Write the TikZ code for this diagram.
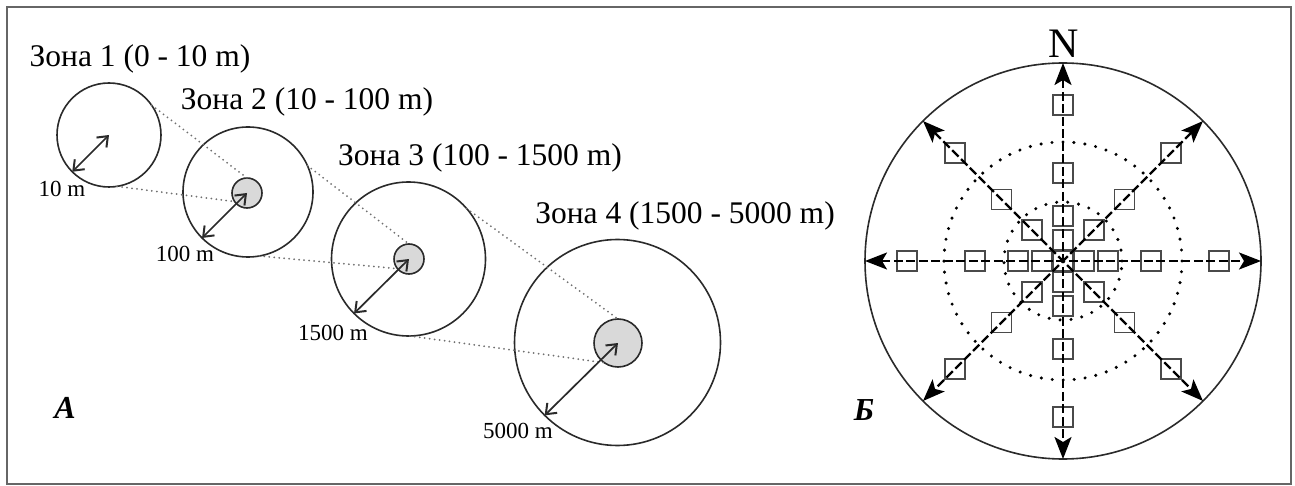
\documentclass[tikz,border=0pt]{standalone}
\usepackage{fontspec}
\setmainfont{Liberation Serif}
\usetikzlibrary{arrows.meta}
\definecolor{ink}{HTML}{2A2A2A}
\definecolor{coreg}{HTML}{D9D9D9}
\definecolor{framec}{HTML}{666666}
\definecolor{dotg}{HTML}{707070}
\definecolor{sqc}{HTML}{4A4A4A}
\begin{document}
\begin{tikzpicture}[x=1pt,y=-1pt,
  zone/.style={circle,draw=ink,line width=1.6pt,inner sep=0pt,outer sep=0pt,minimum size=#1},
  core/.style={circle,draw=ink,fill=coreg,line width=1.6pt,inner sep=0pt,outer sep=0pt,minimum size=#1},
  link/.style={draw=dotg,line width=2pt,dash pattern=on 0pt off 5pt,line cap=round},
  radius/.style={draw=ink,line width=1.7pt,arrows={Straight Barb[length=9pt,width=14pt,line width=2pt]-Straight Barb[length=9pt,width=14pt,line width=2pt]}},
  big/.style={font=\fontsize{31.5}{36}\selectfont,inner sep=0pt},
  small/.style={font=\fontsize{23}{27}\selectfont,inner sep=0pt},
  panel/.style={font=\fontsize{32}{36}\selectfont\bfseries\itshape,inner sep=0pt},
  rose/.style={circle,draw=ink,line width=1.6pt,inner sep=0pt,outer sep=0pt,minimum size=#1},
  ring/.style={circle,draw=black,line width=3.4pt,dash pattern=on 0pt off 11pt,line cap=round,inner sep=0pt,outer sep=0pt,minimum size=#1},
  axisline/.style={line width=2.2pt,dash pattern=on 9pt off 3.5pt,arrows={Stealth[length=22pt,width=17pt,inset=5pt]-Stealth[length=22pt,width=17pt,inset=5pt]}},
  sq/.style={draw=sqc,line width=1.6pt,minimum size=20pt,inner sep=0pt,outer sep=0pt}]
\useasboundingbox (0,0) rectangle (1295,486);
\draw[framec,line width=2pt] (7,7) rectangle (1291,484);

% Panel A
\node[zone=104pt] (c1) at (109,135) {};
\node[zone=130pt] (c2) at (248,192) {};
\node[zone=154pt] (c3) at (408.5,259) {};
\node[zone=206pt] (c4) at (617.5,342.5) {};
\node[core=30pt] (i2) at (247,193) {};
\node[core=30pt] (i3) at (409,259) {};
\node[core=48pt] (i4) at (618,343) {};

\draw[link] (c1.35) -- (i2.90);
\draw[link] (c1.-81) -- (i2.215);
\draw[link] (c2.24) -- (i3.90);
\draw[link] (c2.-80) -- (i3.220);
\draw[link] (c3.41) -- (i4.90);
\draw[link] (c3.-89) -- (i4.235);

\draw[radius] (c1.center) -- (c1.225);
\draw[radius] (i2.center) -- (c2.225);
\draw[radius] (i3.center) -- (c3.225);
\draw[radius] (i4.center) -- (c4.225);

\node[big] (t1) at (140,59) {Зона 1 (0 - 10 m)};
\node[big] (t2) at (307,102) {Зона 2 (10 - 100 m)};
\node[big] (t3) at (480,158) {Зона 3 (100 - 1500 m)};
\node[big] (t4) at (685,216) {Зона 4 (1500 - 5000 m)};

\node[small] (r1) at (62,189) {10 m};
\node[small] (r2) at (185,254) {100 m};
\node[small] (r3) at (333,333) {1500 m};
\node[small] (r4) at (518,431) {5000 m};

\node[panel] (pa) at (65,408) {А};

% Panel B
\node[rose=396pt] (B) at (1063,261) {};
\node[ring=238pt] (d1) at (1063,261) {};
\node[ring=118pt] (d2) at (1063,261) {};

\foreach \a in {0,90,180,270}{
  \foreach \d in {21,45,88,156}{
    \node[sq] (s-\a-\d) at ([shift={(\a:\d)}]B.center) {};
  }
}
\foreach \a in {45,135,225,315}{
  \foreach \d in {44,87,153}{
    \node[sq] (s-\a-\d) at ([shift={(\a:\d)}]B.center) {};
  }
}
\node[sq] (s0) at (B.center) {};

\draw[axisline] (B.90) -- (B.270);
\draw[axisline] (B.180) -- (B.0);
\draw[axisline] (B.135) -- (B.315);
\draw[axisline] (B.45) -- (B.225);

\node[font=\fontsize{42}{46}\selectfont,inner sep=0pt] (N) at (1064,44) {N};
\node[panel] (pb) at (864,410) {Б};
\end{tikzpicture}
\end{document}
